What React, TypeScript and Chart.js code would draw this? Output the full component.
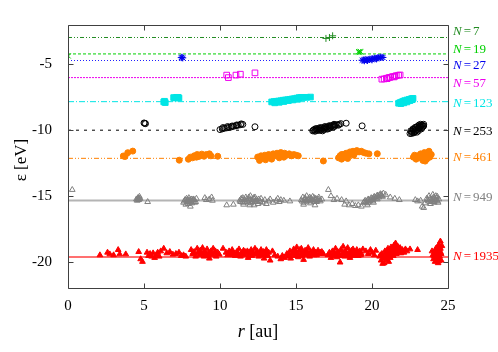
import React, { useEffect, useRef } from "react";
import { Chart, registerables } from "chart.js";

Chart.register(...registerables);

// Cluster sizes and reference energy levels (eV)
const sizes = ["7", "19", "27", "57", "123", "253", "461", "949", "1935"];
const levels = [-2.95, -4.2, -4.7, -6.0, -7.83, -10.0, -12.14, -15.35, -19.64];
const labelEps = [-2.52, -3.87, -5.09, -6.48, -7.95, -10.09, -12.09, -15.16, -19.63];
const colors = ["#228b22", "#00d000", "#0000ee", "#ee00ee", "#00e5e5", "#000000", "#ff8000", "#808080", "#ff0000"];
const lineColors = ["#228b22", "#00d000", "#2020ff", "#ee00ee", "#00e5e5", "#000000", "#ff8000", "#b4b4b4", "#ff7070"];

const xTicks = [0, 5, 10, 15, 20, 25];
const yTicks = [-20, -15, -10, -5];

// [r (au), eps (eV)]
const pts7 = [[16.97, -3.02], [17.41, -2.82], [17.2, -2.95]];
const pts19 = [[0.02, -4.36], [19.12, -4.02], [19.18, -4.06], [19.22, -4.0], [19.15, -4.1], [19.25, -4.05]];
const pts27 = [
  [7.5, -4.45], [7.55, -4.5], [7.45, -4.48],
  [19.35, -4.68], [19.45, -4.66], [19.55, -4.62], [19.65, -4.66], [19.75, -4.62], [19.85, -4.6], [19.95, -4.6],
  [20.05, -4.56], [20.15, -4.52], [20.25, -4.55], [20.35, -4.5], [20.45, -4.48], [20.55, -4.46], [20.65, -4.45],
  [20.72, -4.47], [19.5, -4.72], [19.7, -4.7], [20.0, -4.65], [20.3, -4.58],
];
const pts57 = [
  [10.44, -5.81], [10.55, -6.0], [11.05, -5.81], [11.34, -5.74], [12.3, -5.64],
  [20.65, -6.12], [20.8, -6.1], [20.95, -6.05], [21.1, -6.0], [21.2, -5.98], [21.35, -5.92], [21.5, -5.9],
  [21.6, -5.85], [21.75, -5.82], [21.85, -5.8], [21.0, -6.08], [21.45, -5.95],
];
const pts123 = [
  [6.3, -7.85], [6.4, -7.9], [6.35, -7.8], [6.95, -7.52], [7.05, -7.55], [7.15, -7.5], [7.3, -7.55], [7.25, -7.5],
  [13.4, -7.85], [13.55, -7.82], [13.7, -7.8], [13.85, -7.78], [14.0, -7.76], [14.15, -7.72], [14.3, -7.7],
  [14.45, -7.68], [14.6, -7.65], [14.75, -7.62], [14.9, -7.6], [15.05, -7.56], [15.2, -7.52], [15.35, -7.5],
  [15.5, -7.5], [15.7, -7.5], [15.95, -7.48], [13.6, -7.92], [13.9, -7.88], [14.2, -7.82], [14.5, -7.75],
  [14.8, -7.7], [15.1, -7.65],
  [21.75, -7.95], [21.85, -7.9], [21.95, -7.85], [22.05, -7.8], [22.15, -7.75], [22.3, -7.7], [22.45, -7.65],
  [22.6, -7.6], [22.7, -7.58], [21.9, -7.98], [22.1, -7.92], [22.3, -7.85], [22.5, -7.75], [22.65, -7.68],
];
const pts253 = [
  [5.0, -9.45], [5.1, -9.5], [5.05, -9.48],
  [10.0, -9.95], [10.15, -9.9], [10.3, -9.85], [10.45, -9.82], [10.6, -9.78], [10.75, -9.75], [10.9, -9.7],
  [11.05, -9.66], [11.2, -9.62], [11.35, -9.58], [11.5, -9.56], [10.2, -9.8], [10.5, -9.72], [10.8, -9.68],
  [11.1, -9.6], [11.4, -9.52], [12.3, -9.74],
  [16.1, -10.05], [16.2, -9.95], [16.3, -10.0], [16.35, -9.9], [16.45, -9.95], [16.5, -9.85], [16.6, -9.9],
  [16.7, -9.82], [16.8, -9.85], [16.9, -9.78], [17.0, -9.8], [17.1, -9.72], [17.2, -9.75], [17.3, -9.68],
  [17.4, -9.65], [17.5, -9.62], [17.6, -9.6], [17.7, -9.58], [17.85, -9.55], [16.25, -10.08], [16.55, -10.02],
  [16.85, -9.95], [17.15, -9.88], [17.45, -9.75], [18.3, -9.47], [19.35, -9.67],
  [16.15, -10.0], [16.4, -10.02], [16.65, -9.98], [16.95, -9.88], [17.25, -9.82], [17.55, -9.7], [17.8, -9.62],
  [16.3, -9.88], [16.6, -9.8], [16.9, -9.72], [17.2, -9.65], [17.5, -9.55], [17.95, -9.5], [16.75, -10.05],
  [17.05, -9.92],
  [22.5, -10.25], [22.6, -10.1], [22.7, -10.0], [22.65, -10.18], [22.8, -9.9], [22.85, -10.05], [22.9, -9.8],
  [23.0, -9.7], [23.0, -9.95], [23.1, -9.6], [23.1, -9.85], [23.2, -9.55], [23.2, -9.75], [23.3, -9.6],
  [23.35, -9.7], [23.4, -9.55], [22.95, -10.15], [23.25, -9.9], [22.75, -10.2],
  [22.55, -10.05], [22.7, -9.9], [22.8, -10.12], [22.9, -10.0], [23.05, -9.82], [23.15, -9.7], [23.25, -9.62],
  [23.3, -9.8], [22.6, -10.25], [23.05, -10.05], [23.4, -9.68], [22.85, -9.78],
];
const pts461 = [
  [3.64, -11.96], [3.75, -12.0], [3.93, -11.71], [4.26, -11.59], [7.32, -12.28],
  [7.92, -12.21], [8.05, -12.05], [8.2, -12.1], [8.3, -11.95], [8.45, -12.05], [8.5, -11.85], [8.6, -12.0],
  [8.7, -11.9], [8.8, -11.82], [8.95, -11.98], [9.1, -11.85], [9.3, -11.8], [9.4, -11.95], [9.85, -11.98],
  [12.48, -12.04],
  [12.55, -12.1], [12.7, -11.95], [12.85, -12.15], [12.95, -11.9], [13.1, -12.05], [13.2, -11.85], [13.35, -12.0],
  [13.5, -11.8], [13.6, -11.95], [13.75, -11.75], [13.85, -11.9], [14.0, -11.7], [14.1, -11.85], [14.25, -11.75],
  [14.4, -11.9], [14.55, -11.8], [14.7, -11.95], [14.85, -11.85], [15.0, -11.9], [15.15, -11.95], [13.0, -12.25],
  [13.4, -12.2], [13.9, -12.1], [12.6, -12.3], [14.2, -12.05],
  [16.8, -12.34],
  [17.8, -12.1], [17.9, -11.95], [18.0, -12.2], [18.1, -11.85], [18.2, -12.05], [18.3, -11.75], [18.45, -11.9],
  [18.55, -11.65], [18.65, -11.8], [18.75, -11.6], [18.9, -11.7], [19.0, -11.55], [19.15, -11.65], [19.3, -11.6],
  [19.45, -11.7], [19.6, -11.75], [19.8, -11.8], [18.0, -11.85], [18.4, -12.15], [18.8, -11.9], [20.35, -11.79],
  [22.72, -12.05], [22.8, -11.9], [22.9, -12.2], [23.0, -11.95], [23.1, -12.1], [23.2, -11.8], [23.3, -12.0],
  [23.35, -12.3], [23.45, -11.7], [23.55, -11.95], [23.6, -12.2], [23.7, -11.75], [23.8, -12.05], [23.9, -11.85],
  [23.5, -12.35], [23.75, -11.6],
];
const pts949 = [
  [0.28, -14.53],
  [4.5, -15.25], [4.6, -15.15], [4.65, -15.3], [4.75, -15.2], [4.55, -15.35], [4.7, -15.05], [5.24, -15.45],
  [4.58, -15.22], [4.68, -15.18], [4.62, -15.28],
  [7.6, -15.5], [7.7, -15.3], [7.8, -15.2], [7.85, -15.45], [7.9, -15.6], [7.95, -15.15], [8.0, -15.35],
  [8.05, -15.8], [8.1, -15.25], [8.2, -15.4], [8.3, -15.3], [8.4, -15.45], [8.45, -15.2], [7.75, -15.65],
  [8.15, -15.55], [7.65, -15.4], [7.8, -15.35], [7.9, -15.3], [8.0, -15.5], [8.1, -15.4], [8.25, -15.25],
  [8.35, -15.5], [7.95, -15.45], [8.2, -15.3],
  [9.0, -15.15], [9.1, -15.3], [9.3, -15.25], [9.45, -15.1], [9.5, -15.35], [10.44, -15.7], [10.88, -15.65],
  [11.3, -15.35], [11.4, -15.2], [11.5, -15.5], [11.6, -15.3], [11.7, -15.1], [11.8, -15.4], [11.9, -15.25],
  [12.0, -15.0], [12.05, -15.55], [12.1, -15.3], [12.2, -15.15], [12.3, -15.45], [12.4, -15.25], [12.5, -15.6],
  [12.6, -15.35], [12.7, -15.2], [12.8, -15.5], [11.55, -15.65], [11.95, -15.7], [12.25, -15.7],
  [11.35, -15.45], [11.45, -15.3], [11.65, -15.45], [11.75, -15.25], [11.85, -15.5], [12.0, -15.35],
  [12.15, -15.45], [12.25, -15.2], [12.35, -15.35], [12.45, -15.45], [12.55, -15.25], [12.65, -15.45],
  [11.5, -15.15], [11.9, -15.1], [12.3, -15.1],
  [12.95, -15.3], [13.05, -15.6], [13.2, -15.4], [13.3, -15.25], [13.5, -15.5], [13.7, -15.35], [13.8, -15.2],
  [13.9, -15.45], [14.0, -15.3], [14.2, -15.35], [14.6, -15.4],
  [15.35, -15.3], [15.45, -15.1], [15.5, -15.5], [15.6, -15.25], [15.7, -15.0], [15.75, -15.4], [15.85, -15.2],
  [15.95, -15.55], [16.05, -15.3], [16.1, -15.05], [16.2, -15.45], [16.3, -15.2], [16.4, -15.35], [16.5, -15.1],
  [16.6, -15.4], [16.7, -15.25], [15.5, -15.65], [16.25, -15.7],
  [15.4, -15.4], [15.55, -15.3], [15.65, -15.4], [15.8, -15.3], [15.9, -15.4], [16.0, -15.2], [16.15, -15.35],
  [16.25, -15.3], [16.35, -15.45], [16.45, -15.25], [16.55, -15.3], [15.6, -15.15], [15.9, -15.1], [16.2, -15.15],
  [17.13, -14.53], [17.3, -15.0], [17.5, -15.3], [17.7, -15.2], [18.0, -15.3], [18.3, -15.4], [18.2, -15.65],
  [18.5, -15.7], [18.7, -15.6], [18.9, -15.75], [19.1, -15.7], [19.3, -15.8],
  [19.45, -15.5], [19.55, -15.35], [19.65, -15.55], [19.75, -15.25], [19.85, -15.4], [19.95, -15.15],
  [20.05, -15.3], [20.15, -15.05], [20.25, -15.2], [20.35, -14.95], [20.45, -15.1], [20.55, -14.85],
  [20.65, -15.0], [20.75, -14.8], [20.9, -14.9], [19.7, -15.7], [20.1, -15.5], [21.2, -15.1], [21.5, -15.2],
  [21.8, -15.3],
  [19.5, -15.45], [19.6, -15.45], [19.7, -15.35], [19.8, -15.3], [19.9, -15.3], [20.0, -15.2], [20.1, -15.15],
  [20.2, -15.1], [20.3, -15.05], [20.4, -15.0], [20.5, -14.95], [20.6, -14.9], [19.75, -15.5], [20.05, -15.4],
  [20.35, -15.25], [20.7, -15.05],
  [22.85, -15.3], [23.0, -15.4], [23.2, -15.35], [23.3, -15.8], [23.5, -15.55], [23.6, -15.2], [23.7, -15.4],
  [23.75, -15.0], [23.85, -15.6], [23.9, -15.25], [24.0, -14.9], [24.05, -15.45], [24.1, -15.15], [24.2, -15.35],
  [24.3, -15.05], [24.35, -15.5], [24.4, -15.25], [23.4, -15.9],
  [23.65, -15.3], [23.8, -15.2], [23.95, -15.35], [24.05, -15.1], [24.15, -15.3], [24.25, -15.2], [24.1, -15.5],
  [23.85, -15.45], [24.3, -15.4], [24.2, -15.0],
];
const pts1935 = [
  [2.1, -19.5], [2.6, -19.3], [2.75, -19.43], [3.0, -19.5], [3.3, -19.1], [3.4, -19.43], [3.8, -19.43],
  [4.65, -19.25], [4.78, -19.8], [4.9, -20.0],
  [5.2, -19.3], [5.3, -19.55], [5.4, -19.4], [5.5, -19.6], [5.6, -19.35], [5.7, -19.7], [5.8, -19.5],
  [5.9, -19.3], [6.0, -19.6], [6.1, -19.2], [6.3, -19.0], [6.5, -19.35], [6.7, -19.25], [6.9, -19.45],
  [7.1, -19.4], [7.3, -19.3], [7.45, -19.55], [7.6, -19.5], [7.75, -19.6],
  [8.1, -19.1], [8.2, -19.4], [8.3, -19.25], [8.4, -19.6], [8.5, -19.0], [8.55, -19.35], [8.65, -19.5],
  [8.7, -19.15], [8.8, -19.4], [8.85, -18.95], [8.95, -19.6], [9.0, -19.25], [9.1, -19.45], [9.15, -19.05],
  [9.25, -19.35], [9.3, -19.75], [9.4, -19.2], [9.5, -19.5], [9.55, -19.0], [9.65, -19.35], [9.75, -19.6],
  [9.85, -19.3], [9.95, -19.45], [10.2, -19.0],
  [8.25, -19.3], [8.6, -19.25], [8.9, -19.35], [9.2, -19.55], [9.45, -19.4], [9.7, -19.2],
  [10.4, -19.3], [10.5, -19.5], [10.6, -19.2], [10.7, -19.45], [10.8, -19.1], [10.9, -19.35], [11.0, -19.55],
  [11.1, -19.25], [11.2, -19.4], [11.25, -19.05], [11.35, -19.6], [11.45, -19.3], [11.55, -19.15], [11.6, -19.5],
  [11.7, -19.35], [11.8, -19.2], [11.85, -19.7], [11.95, -19.4], [12.05, -19.1], [12.1, -19.55], [12.2, -19.3],
  [12.3, -19.0], [12.35, -19.45], [12.45, -19.2], [12.55, -19.6], [12.6, -19.35], [12.7, -19.1], [12.75, -19.5],
  [12.85, -19.25], [12.9, -19.75], [13.0, -19.4], [13.05, -19.1], [13.15, -19.55], [13.2, -19.3], [13.3, -19.9],
  [13.45, -19.2], [13.6, -19.5],
  [10.55, -19.4], [10.85, -19.5], [11.15, -19.45], [11.4, -19.4], [11.65, -19.25], [11.9, -19.3], [12.15, -19.4],
  [12.4, -19.35], [12.65, -19.45], [12.95, -19.3], [13.1, -19.45], [10.75, -19.3],
  [13.8, -19.6], [14.0, -19.8], [14.1, -19.55], [14.25, -19.7],
  [14.4, -19.4], [14.5, -19.6], [14.6, -19.2], [14.65, -19.75], [14.75, -19.4], [14.85, -19.05], [14.9, -19.55],
  [15.0, -19.3], [15.05, -18.9], [15.15, -19.65], [15.2, -19.2], [15.3, -19.45], [15.35, -19.0], [15.45, -19.3],
  [15.5, -19.85], [15.6, -19.15], [15.65, -19.5], [15.75, -19.3], [15.8, -18.95], [15.9, -19.6], [15.95, -19.2],
  [16.05, -19.4], [16.15, -19.1], [16.2, -19.5], [16.3, -19.3], [16.45, -19.15], [16.55, -19.4], [16.7, -19.25],
  [16.8, -19.4],
  [14.55, -19.5], [14.8, -19.3], [15.1, -19.4], [15.4, -19.55], [15.55, -19.4], [15.7, -19.2], [15.85, -19.45],
  [16.1, -19.3], [16.35, -19.5], [16.6, -19.3], [15.25, -19.1], [14.95, -19.15],
  [17.1, -19.5], [17.2, -19.3], [17.3, -19.7], [17.4, -19.2], [17.45, -19.55], [17.55, -19.4], [17.6, -19.0],
  [17.7, -19.65], [17.75, -19.25], [17.85, -19.5], [17.9, -20.05], [17.95, -19.1], [18.05, -19.4], [18.1, -18.85],
  [18.2, -19.6], [18.25, -19.2], [18.35, -19.45], [18.4, -18.95], [18.5, -19.3], [18.55, -19.7], [18.65, -19.15],
  [18.7, -19.5], [18.8, -19.25], [18.9, -19.4], [19.0, -19.1], [19.1, -19.55], [19.2, -19.2], [19.3, -19.4],
  [19.4, -19.05],
  [17.25, -19.45], [17.5, -19.3], [17.8, -19.35], [18.0, -19.55], [18.15, -19.3], [18.3, -19.3], [18.45, -19.55],
  [18.6, -19.35], [18.85, -19.55], [19.05, -19.3], [19.25, -19.5], [17.65, -19.45], [18.75, -19.05],
  [19.6, -19.2], [19.75, -19.4], [19.9, -19.1], [20.0, -19.3], [20.15, -19.5], [20.25, -19.15],
  [20.5, -19.6], [20.6, -19.9], [20.65, -19.4], [20.75, -19.7], [20.8, -20.1], [20.85, -19.2], [20.95, -19.5],
  [21.0, -19.85], [21.05, -19.0], [21.15, -19.35], [21.2, -19.7], [21.25, -18.9], [21.35, -19.2], [21.4, -19.55],
  [21.45, -18.75], [21.5, -19.05], [21.55, -18.6], [21.6, -19.4], [21.7, -18.85], [21.75, -19.2], [21.85, -18.95],
  [21.9, -19.35], [22.0, -19.1], [22.1, -19.3], [22.2, -19.05], [22.3, -19.2], [20.7, -20.15], [21.1, -20.0],
  [20.55, -19.5], [20.7, -19.55], [20.9, -19.7], [21.05, -19.5], [21.2, -19.3], [21.3, -19.45], [21.5, -19.25],
  [21.65, -19.1], [21.8, -19.3], [21.95, -19.25], [21.4, -18.95], [21.6, -18.8], [21.3, -19.0], [20.9, -19.35],
  [21.0, -19.2],
  [22.5, -19.05], [23.0, -19.1],
  [23.95, -19.2], [24.0, -19.5], [24.05, -19.8], [24.1, -19.3], [24.15, -20.0], [24.2, -19.0], [24.2, -19.6],
  [24.25, -19.85], [24.3, -18.9], [24.3, -19.4], [24.35, -20.1], [24.4, -18.7], [24.4, -19.2], [24.45, -19.6],
  [24.5, -18.45], [24.5, -19.0], [24.55, -19.4], [24.55, -19.9], [24.6, -18.8], [24.35, -19.7],
  [24.1, -19.6], [24.25, -19.15], [24.35, -19.3], [24.45, -19.0], [24.15, -19.45], [24.5, -19.25], [24.3, -19.65],
  [24.45, -18.85], [24.4, -19.95],
];

const allPts = [pts7, pts19, pts27, pts57, pts123, pts253, pts461, pts949, pts1935];
const markerStyles = ["cross", "crossRot", "star", "rect", "rect", "circle", "circle", "triangle", "triangle"];
const markerFilled = [false, false, false, false, true, false, true, false, true];
const markerRadius = [3.5, 3.5, 3.5, 4, 4, 3, 3, 3.3, 3.3];
const lineDashes = [[4, 2, 1, 2, 1, 2], [3, 2], [1, 2], [2, 1], [6, 2, 1, 2], [3, 5], [5, 2, 1, 2, 1, 2], [], []];
const lineWidths = [1, 1, 1, 1, 1, 1, 1, 2, 2];

const SERIF = "'Liberation Serif', 'Times New Roman', serif";

const decorPlugin = {
  id: "decor",
  afterDraw(chart: any) {
    const { ctx, chartArea: a, scales } = chart;
    const xs = scales.x;
    const ys = scales.y;
    ctx.save();
    ctx.strokeStyle = "#404040";
    ctx.lineWidth = 1;
    ctx.beginPath();
    const L = Math.round(a.left) + 0.5;
    const R = Math.round(a.right) + 0.5;
    const T = Math.round(a.top) + 0.5;
    const B = Math.round(a.bottom) + 0.5;
    ctx.rect(L, T, R - L, B - T);
    xs.ticks.forEach((t: any) => {
      const px = Math.round(xs.getPixelForValue(t.value)) + 0.5;
      ctx.moveTo(px, B);
      ctx.lineTo(px, B - 5);
      ctx.moveTo(px, T);
      ctx.lineTo(px, T + 5);
    });
    ys.ticks.forEach((t: any) => {
      const py = Math.round(ys.getPixelForValue(t.value)) + 0.5;
      ctx.moveTo(L, py);
      ctx.lineTo(L + 5, py);
      ctx.moveTo(R, py);
      ctx.lineTo(R - 5, py);
    });
    ctx.stroke();

    // right-hand labels
    ctx.textBaseline = "middle";
    ctx.textAlign = "left";
    sizes.forEach((n, i) => {
      const y = ys.getPixelForValue(labelEps[i]);
      let x = a.right + 5;
      ctx.fillStyle = colors[i];
      ctx.font = `italic 13px ${SERIF}`;
      ctx.fillText("N", x, y);
      x += ctx.measureText("N").width + 2;
      ctx.font = `13px ${SERIF}`;
      ctx.fillText("=", x, y);
      x += ctx.measureText("=").width + 2;
      ctx.fillText(n, x, y);
    });

    // axis titles
    ctx.fillStyle = "#000";
    ctx.font = `italic 18px ${SERIF}`;
    const rW = ctx.measureText("r").width;
    ctx.font = `18px ${SERIF}`;
    const auW = ctx.measureText(" [au]").width;
    const cx = (a.left + a.right) / 2;
    const sx = cx - (rW + auW) / 2;
    ctx.font = `italic 18px ${SERIF}`;
    ctx.fillText("r", sx, 332);
    ctx.font = `18px ${SERIF}`;
    ctx.fillText(" [au]", sx + rW, 332);

    ctx.translate(22, 160);
    ctx.rotate(-Math.PI / 2);
    ctx.textAlign = "center";
    ctx.font = `17px ${SERIF}`;
    ctx.fillText("ε [eV]", 0, 0);
    ctx.restore();
  },
};

export default function App() {
  const ref = useRef<HTMLCanvasElement>(null);
  useEffect(() => {
    if (!ref.current) return;
    const datasets: any[] = [];
    allPts.forEach((pts, i) => {
      datasets.push({
        type: "scatter",
        label: "N=" + sizes[i],
        data: pts.map((p) => ({ x: p[0], y: p[1] })),
        pointStyle: markerStyles[i],
        pointRadius: markerRadius[i],
        pointBorderWidth: 1,
        borderColor: colors[i],
        backgroundColor: markerFilled[i] ? colors[i] : "rgba(0,0,0,0)",
        order: 1,
      });
    });
    levels.forEach((lv, i) => {
      datasets.push({
        type: "line",
        label: "level " + sizes[i],
        data: [{ x: 0, y: lv }, { x: 25, y: lv }],
        borderColor: lineColors[i],
        borderWidth: lineWidths[i],
        borderDash: lineDashes[i],
        pointRadius: 0,
        fill: false,
        order: 5,
      });
    });
    const chart = new Chart(ref.current, {
      type: "scatter",
      data: { datasets },
      options: {
        responsive: false,
        animation: false,
        devicePixelRatio: 1,
        layout: { padding: { top: 21, right: 50, left: 0, bottom: 0 } },
        plugins: { legend: { display: false }, tooltip: { enabled: false } },
        scales: {
          x: {
            type: "linear",
            min: 0,
            max: 25,
            afterBuildTicks: (s: any) => {
              s.ticks = xTicks.map((v) => ({ value: v }));
            },
            afterFit: (s: any) => {
              s.height = 64;
            },
            grid: { display: false, drawTicks: false },
            border: { display: false },
            ticks: { padding: 9, color: "#000", font: { family: SERIF, size: 15 } },
          },
          y: {
            type: "linear",
            min: -22,
            max: -2,
            afterBuildTicks: (s: any) => {
              s.ticks = yTicks.map((v) => ({ value: v }));
            },
            afterFit: (s: any) => {
              s.width = 68;
            },
            grid: { display: false, drawTicks: false },
            border: { display: false },
            ticks: { padding: 16, color: "#000", font: { family: SERIF, size: 15 } },
          },
        },
      },
      plugins: [decorPlugin],
    } as any);
    return () => chart.destroy();
  }, []);
  return (
    <div style={{ position: "fixed", left: 0, top: 0, width: 498, height: 352, background: "#fff" }}>
      <canvas ref={ref} width={498} height={352} style={{ display: "block" }} />
    </div>
  );
}
